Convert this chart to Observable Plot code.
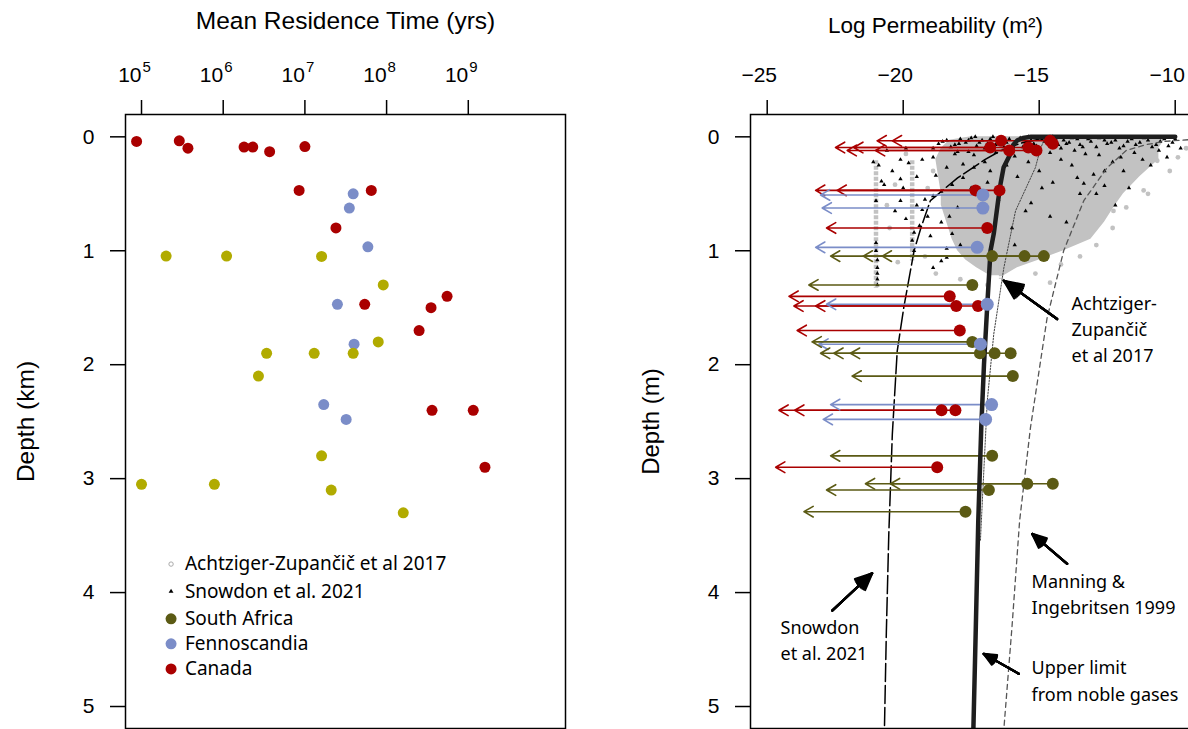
<!DOCTYPE html>
<html><head><meta charset="utf-8">
<script src="https://cdn.jsdelivr.net/npm/d3@7"></script>
<script src="https://cdn.jsdelivr.net/npm/@observablehq/plot@0.6"></script>
<style>
html,body{margin:0;padding:0;background:#fff;}
#wrap{position:relative;width:1188px;height:729px;overflow:hidden;background:#fff;}
#left{position:absolute;left:0;top:0;width:600px;}
#right{position:absolute;left:620px;top:0;width:588px;}
#wrap svg{max-width:none !important;}
</style></head><body>
<div id="wrap"><div id="left"></div><div id="right"></div></div>
<script>
const FONT = "Liberation Sans, Arial, sans-serif";
const FONT2 = "Noto Sans, Open Sans, sans-serif";
const RED = "#AA0000", BLUE = "#7B8DC8", OLIVE = "#5B5A14", YELLOW = "#B1AB00", GRAY = "#c2c2c2";

// ---------- Left panel data: mean residence time (yrs) vs depth (km)
const canadaAge   = [8.7e4, 2.9e5, 3.7e5, 1.8e6, 2.3e6, 3.7e6, 1.0e7, 8.5e6, 6.5e7, 2.4e7, 5.5e8, 5.4e7, 3.5e8, 2.5e8, 3.6e8, 1.15e9, 1.6e9];
const canadaDepth = [0.04, 0.035, 0.10, 0.09, 0.09, 0.13, 0.085, 0.47, 0.47, 0.80, 1.40, 1.47, 1.50, 1.70, 2.40, 2.40, 2.90];
const fennoAge    = [3.9e7, 3.5e7, 5.9e7, 2.5e7, 4.0e7, 1.7e7, 3.2e7];
const fennoDepth  = [0.50, 0.625, 0.965, 1.47, 1.82, 2.35, 2.48];
const safAge      = [2.0e5, 1.1e6, 1.6e7, 9.1e7, 7.9e7, 3.4e6, 1.3e7, 3.9e7, 2.7e6, 1.6e7, 1.0e5, 7.8e5, 2.1e7, 1.6e8];
const safDepth    = [1.047, 1.047, 1.05, 1.30, 1.80, 1.90, 1.90, 1.90, 2.10, 2.80, 3.05, 3.05, 3.10, 3.30];

const ageTicks = [1e5, 1e6, 1e7, 1e8, 1e9];
const ageTickBase = ["10", "10", "10", "10", "10"];
const ageTickExp = ["5", "6", "7", "8", "9"];
const depthTicks = [0, 1, 2, 3, 4, 5];

const legendLabels = ["Achtziger-Zupančič et al 2017", "Snowdon et al. 2021", "South Africa", "Fennoscandia", "Canada"];
const legendDepth  = [3.75, 3.99, 4.23, 4.45, 4.67];
const legendSymbolAge = 2.3e5, legendTextAge = 3.4e5;

// ---------- Right panel data: log permeability (m2) vs depth
const permGroup = ["Canada","Canada","Canada","Canada","Canada","Canada","Canada","Canada","Canada","Canada","Canada","Canada","Canada","Canada","Canada","Canada","Canada",
  "Fennoscandia","Fennoscandia","Fennoscandia","Fennoscandia","Fennoscandia","Fennoscandia","Fennoscandia",
  "South Africa","South Africa","South Africa","South Africa","South Africa","South Africa","South Africa","South Africa","South Africa","South Africa","South Africa","South Africa","South Africa","South Africa"];
const permDepth = [0.035, 0.035, 0.094, 0.094, 0.12, 0.12, 0.06, 0.47, 0.47, 0.80, 1.40, 1.485, 1.485, 1.70, 2.40, 2.40, 2.90,
  0.51, 0.625, 0.97, 1.47, 1.82, 2.35, 2.48,
  1.047, 1.047, 1.047, 1.30, 1.80, 1.90, 1.90, 1.90, 2.10, 2.80, 3.045, 3.045, 3.10, 3.29];
const permEst = [-16.4, -14.6, -16.8, -15.4, -16.1, -15.1, -14.5, -17.34, -16.46, -16.91, -18.29, -18.05, -17.25, -17.92, -18.59, -18.08, -18.75,
  -17.07, -17.07, -17.28, -16.91, -17.16, -16.75, -16.97,
  -16.73, -15.54, -14.83, -17.46, -17.46, -17.18, -16.64, -16.05, -15.97, -16.73, -15.44, -14.50, -16.85, -17.71];
const permLow = [-20.96, -20.40, -22.49, -21.82, -22.06, -21.02, null, -23.22, -22.43, -22.82, -24.2, -24.02, -23.22, -23.9, -24.57, -23.99, -24.69,
  -23.04, -22.98, -23.22, -22.82, -23.10, -22.67, -22.94,
  -22.67, -21.47, -20.77, -23.47, -23.35, -23.04, -22.55, -21.94, -21.88, -22.67, -21.39, -20.47, -22.82, -23.65];

// Achtziger-Zupancic et al 2017 data cloud: dense envelope + columns + scattered points
const azEnvDepth = [0.0, 0.03, 0.1, 0.2, 0.35, 0.5, 0.6, 0.75, 0.9, 1.0, 1.08, 1.15, 1.22];
const azEnvLeft  = [-17.5, -18.3, -18.6, -18.8, -18.7, -18.6, -18.6, -18.4, -18.2, -18.0, -17.7, -17.3, -16.8];
const azEnvRight = [-10.0, -10.4, -10.6, -10.6, -11.3, -11.9, -12.2, -12.6, -13.1, -14.1, -15.0, -15.8, -16.3];
const azColK  = [-21.0, -19.67, -16.4];
const azColD1 = [0.21, 0.21, 1.0];
const azColD2 = [1.33, 1.09, 1.25];
const azDotK = [-9.6, -9.9, -10.2, -11.0, -11.16, -10.66, -12.27, -11.8, -12.3, -12.9, -13.5, -14.2, -19.9, -20.3, -20.5, -19.2, -18.8, -17.9, -16.9, -15.14, -14.6, -20.2, -18.9, -19.1, -20.6];
const azDotD = [0.1, 0.18, 0.3, 0.5, 0.47, 0.21, 0.65, 0.62, 0.8, 0.95, 1.05, 1.12, 0.15, 0.42, 0.8, 1.05, 1.2, 1.25, 1.3, 1.2, 1.28, 1.1, 0.3, 0.45, 0.6];

// Snowdon et al. 2021 points
const snK = [-18.7,-18.4,-18.1,-17.9,-17.7,-17.5,-17.3,-17.1,-16.9,-16.7,-16.5,-16.3,-16.1,-15.9,-15.7,-15.5,-15.3,-15.1,-14.9,-14.7,-14.5,-14.3,-14.1,-13.9,-13.6,-13.4,-13.1,-12.8,-12.5,-12.2,-11.9,-11.6,-11.3,-11.0,-10.7,-10.4,-10.1,-13.3,-12.0,-14.6,-11.2,-10.6,
  -21.1,-20.9,-20.8,-20.7,-21.0,-20.1,-19.8,-20.1,-20.0,-20.1,-19.5,-19.3,-19.1,-19.4,-19.6,-19.0,-19.67,-19.6,-18.6,-18.9,-18.4,-19.3,-18.9,-18.4,-17.8,-17.4,-17.0,-16.8,-17.8,-18.2,-18.6,-18.9,-19.2,-17.5,-17.2,-16.9,-18.0,-18.3,-18.6,-18.2,-17.9,-18.4,-21.0,-21.0,-20.95,-20.95,-20.95,-20.95,-20.95,-16.2,-15.8,-15.4,-15.0,-14.5,-13.8,-12.6,-12.9,-11.7,-14.0,-16.5,-16.0,-15.5,-18.8,-19.5,-20.4,-20.3,-19.9,
  -18.9,-18.55,-18.25,-17.95,-17.6,-17.35,-17.2,-17.0,-16.8,-16.6,-16.4,-16.2,-16.0,-15.8,-15.6,-15.4,-15.2,-15.0,-14.8,-14.6,-14.4,-14.2,-14.0,-13.8,-13.5,-13.2,-12.9,-12.6,-12.35,-12.05,-11.75,-11.45,-11.15,-10.85,-10.55,-10.25,-10.0,
  -18.0,-17.4,-16.6,-15.9,-15.2,-14.2,-13.7,-12.8,-12.3,-11.5,-10.9,-10.3,-9.8,-13.0,-11.9,-14.9,-13.5,-12.2,-15.3,-14.6,-15.9,-13.6,-13.36,-12.6,-19.9,-20.6,-17.6,-18.1];
const snD = [0.06,0.03,0.07,0.02,0.05,0.01,0.08,0.03,0.06,0.0,0.04,0.09,0.02,0.06,0.01,0.05,0.03,0.08,0.02,0.05,0.0,0.07,0.03,0.05,0.02,0.09,0.04,0.01,0.06,0.03,0.08,0.02,0.05,0.03,0.07,0.02,0.05,0.15,0.18,0.14,0.2,0.12,
  0.22,0.25,0.39,0.42,0.56,0.2,0.23,0.37,0.45,0.56,0.6,0.64,0.7,0.78,0.84,0.87,0.91,1.0,1.09,1.15,1.06,0.2,0.18,0.27,0.24,0.27,0.22,0.3,0.36,0.42,0.48,0.52,0.55,0.45,0.6,0.4,0.62,0.7,0.75,0.85,0.95,0.98,0.93,1.0,1.08,1.15,1.2,1.25,1.3,0.25,0.35,0.22,0.3,0.4,0.25,0.3,0.5,0.45,0.75,0.55,0.8,0.65,0.34,0.35,0.3,0.65,0.72,
  0.1,0.04,0.09,0.06,0.03,0.0,0.05,0.1,0.02,0.07,0.01,0.05,0.08,0.03,0.09,0.0,0.06,0.1,0.04,0.08,0.02,0.1,0.06,0.01,0.07,0.02,0.09,0.03,0.05,0.1,0.04,0.07,0.01,0.09,0.04,0.08,0.02,
  0.13,0.16,0.14,0.17,0.13,0.2,0.12,0.16,0.22,0.14,0.25,0.18,0.1,0.33,0.3,0.45,0.5,0.6,0.58,0.7,0.95,0.36,0.41,0.43,0.1,0.12,0.13,0.15];

// curves
const upperD = [0, 0, 0.01, 0.03, 0.07, 0.15, 0.27, 0.41, 0.56, 0.85, 1.0, 1.44, 2.0, 2.55, 3.37, 4.3, 5.2];
const upperK = [-10, -15.3, -15.6, -15.8, -15.95, -16.06, -16.31, -16.42, -16.51, -16.67, -16.79, -16.9, -17.03, -17.13, -17.24, -17.33, -17.42];
const snowLineD = [0.02, 0.05, 0.12, 0.2, 0.36, 0.56, 0.8, 1.0, 1.5, 1.88, 2.61, 3.49, 4.35, 5.2];
const snowLineK = [-15.0, -15.6, -16.4, -17.0, -18.0, -19.0, -19.35, -19.6, -19.98, -20.22, -20.4, -20.53, -20.62, -20.69];
const manD = [0.02, 0.04, 0.07, 0.12, 0.27, 0.56, 1.0, 1.59, 2.55, 3.37, 4.3, 5.2];
const manK = [-9.2, -10.4, -11.1, -11.8, -12.5, -13.36, -14.1, -14.71, -15.32, -15.72, -16.0, -16.3];
const azFitD = [0.02, 0.1, 0.27, 0.65, 1.15, 1.73, 2.32, 3.0, 3.54];
const azFitK = [-14.8, -14.95, -15.14, -15.87, -16.3, -16.67, -16.91, -17.05, -17.16];

const permTicks = [-25, -20, -15, -10];
const permTickLabels = ["−25", "−20", "−15", "−10"];

// annotations
const annoText = ["Achtziger-\nZupančič\net al 2017", "Manning &\nIngebritsen 1999", "Upper limit\nfrom noble gases", "Snowdon\net al. 2021"];
const annoK = [-13.81, -15.28, -15.28, -24.51];
const annoD = [1.673, 3.997, 4.76, 4.406];
const arrK1 = [-14.34, -13.97, -15.75, -22.61];
const arrD1 = [1.599, 3.748, 4.713, 4.158];
const arrK2 = [-16.30, -15.26, -17.04, -21.14];
const arrD2 = [1.263, 3.485, 4.538, 3.83];

// ---------- build tables
const mk = (xs, ys) => xs.map((x, i) => ({x, y: ys[i]}));
const canada = mk(canadaAge, canadaDepth), fenno = mk(fennoAge, fennoDepth), saf = mk(safAge, safDepth);
const legend = legendLabels.map((label, i) => ({label, y: legendDepth[i]}));
const colorOf = {"Canada": RED, "Fennoscandia": BLUE, "South Africa": OLIVE};
const perm = permDepth.map((d, i) => ({d, est: permEst[i], low: permLow[i], g: permGroup[i]}));
const env = azEnvDepth.map((d, i) => ({d, l: azEnvLeft[i], r: azEnvRight[i]}));
const cols = azColK.map((k, i) => ({k, d1: azColD1[i], d2: azColD2[i]}));
const azDots = azDotK.map((k, i) => ({k, d: azDotD[i]}));
const sn = snK.map((k, i) => ({k, d: snD[i]}));
const line = (ks, ds) => ks.map((k, i) => ({k, d: ds[i]}));
const anno = annoText.map((t, i) => ({t, k: annoK[i], d: annoD[i]}));
const arrs = arrK1.map((k, i) => ({k1: k, d1: arrD1[i], k2: arrK2[i], d2: arrD2[i]}));
const ageT = ageTicks.map((v, i) => ({v, base: ageTickBase[i], exp: ageTickExp[i]}));
const permT = permTicks.map((v, i) => ({v, label: permTickLabels[i]}));
const noLabel = () => "";

const left = Plot.plot({
  width: 600, height: 729,
  marginLeft: 125, marginRight: 35, marginTop: 114, marginBottom: 1,
  style: {fontFamily: FONT, fontSize: "20px", color: "black", background: "white", overflow: "visible"},
  x: {type: "log", domain: [10 ** 4.804, 10 ** 10.19]},
  y: {domain: [-0.196, 5.193], reverse: true},
  marks: [
    Plot.frame({stroke: "black", strokeWidth: 1.5}),
    Plot.axisX({anchor: "top", ticks: ageTicks, tickFormat: noLabel, tickSize: 15, strokeWidth: 1.5, label: null}),
    Plot.text(ageT, {x: "v", text: "base", frameAnchor: "top", lineAnchor: "middle", textAnchor: "end", dx: 0, dy: -39, fontSize: 21}),
    Plot.text(ageT, {x: "v", text: "exp", frameAnchor: "top", lineAnchor: "middle", textAnchor: "start", dx: 1, dy: -47, fontSize: 15}),
    Plot.axisY({anchor: "left", ticks: depthTicks, tickFormat: d => String(d), tickSize: 15, tickPadding: 16, strokeWidth: 1.5, label: null, fontSize: 21}),
    Plot.text(["Mean Residence Time (yrs)"], {text: d => d, frameAnchor: "top", lineAnchor: "middle", dy: -93, fontSize: 24.5}),
    Plot.text(["Depth (km)"], {text: d => d, frameAnchor: "left", textAnchor: "middle", lineAnchor: "middle", dx: -99, rotate: -90, fontSize: 24.5}),
    Plot.dot(canada, {x: "x", y: "y", r: 5.5, fill: RED}),
    Plot.dot(fenno, {x: "x", y: "y", r: 5.5, fill: BLUE}),
    Plot.dot(saf, {x: "x", y: "y", r: 5.5, fill: YELLOW}),
    Plot.dot([legend[0]], {x: () => legendSymbolAge, y: "y", r: 2.2, stroke: "#aaa", strokeWidth: 1, fill: "none"}),
    Plot.dot([legend[1]], {x: () => legendSymbolAge, y: "y", r: 1.8, symbol: "triangle", fill: "black"}),
    Plot.dot([legend[2]], {x: () => legendSymbolAge, y: "y", r: 5.5, fill: OLIVE}),
    Plot.dot([legend[3]], {x: () => legendSymbolAge, y: "y", r: 5.5, fill: BLUE}),
    Plot.dot([legend[4]], {x: () => legendSymbolAge, y: "y", r: 5.5, fill: RED}),
    Plot.text(legend, {x: () => legendTextAge, y: "y", text: "label", textAnchor: "start", fontFamily: FONT2, fontSize: 19})
  ]
});
document.getElementById("left").appendChild(left);

const byGroup = g => perm.filter(d => d.g === g);
const headAngles = [48, 38, 28, 18, 8];
const right = Plot.plot({
  width: 588, height: 729,
  marginLeft: 130, marginRight: 8, marginTop: 114, marginBottom: 1,
  style: {fontFamily: FONT, fontSize: "20px", color: "black", background: "white"},
  x: {domain: [-25.614, -9.07]},
  y: {domain: [-0.196, 5.193], reverse: true},
  marks: [
    Plot.areaX(env, {y: "d", x1: "l", x2: "r", fill: GRAY, curve: "linear"}),
    Plot.ruleX(cols, {x: "k", y1: "d1", y2: "d2", stroke: GRAY, strokeWidth: 4.5, strokeDasharray: "4,1.5"}),
    Plot.dot(azDots, {x: "k", y: "d", r: 2.4, fill: GRAY, clip: true}),
    Plot.dot(sn, {x: "k", y: "d", r: 1.6, symbol: "triangle", fill: "black", clip: true}),
    Plot.line(line(manK, manD), {x: "k", y: "d", stroke: "#555", strokeWidth: 1.3, strokeDasharray: "5,4", clip: true}),
    Plot.line(line(azFitK, azFitD), {x: "k", y: "d", stroke: "#444", strokeWidth: 1, strokeDasharray: "1.5,1.5", clip: true}),
    Plot.line(line(snowLineK, snowLineD), {x: "k", y: "d", stroke: "black", strokeWidth: 1.5, strokeDasharray: "18,4", clip: true}),
    Plot.arrow(perm.filter(d => d.low != null), {x1: "est", x2: "low", y1: "d", y2: "d", stroke: d => colorOf[d.g], strokeWidth: 1.6, headLength: 10, headAngle: 60}),
    Plot.line(line(upperK, upperD), {x: "k", y: "d", stroke: "#1e1e1e", strokeWidth: 4.5, strokeLinecap: "round", clip: true}),
    Plot.dot(byGroup("South Africa"), {x: "est", y: "d", r: 6, fill: OLIVE}),
    Plot.dot(byGroup("Canada"), {x: "est", y: "d", r: 6, fill: RED}),
    Plot.dot(byGroup("Fennoscandia"), {x: "est", y: "d", r: 6.5, fill: BLUE}),
    Plot.frame({stroke: "black", strokeWidth: 1.5}),
    Plot.axisX({anchor: "top", ticks: permTicks, tickFormat: noLabel, tickSize: 15, strokeWidth: 1.5, label: null}),
    Plot.text(permT, {x: "v", text: "label", frameAnchor: "top", lineAnchor: "middle", dx: -8, dy: -39, fontSize: 21}),
    Plot.axisY({anchor: "left", ticks: depthTicks, tickFormat: d => String(d), tickSize: 15, tickPadding: 16, strokeWidth: 1.5, label: null, fontSize: 21}),
    Plot.text(["Log Permeability (m²)"], {text: d => d, frameAnchor: "top", lineAnchor: "middle", dy: -89, dx: -40, fontSize: 22.5}),
    Plot.text(["Depth (m)"], {text: d => d, frameAnchor: "left", textAnchor: "middle", lineAnchor: "middle", dx: -99, rotate: -90, fontSize: 24}),
    Plot.text(anno, {x: "k", y: "d", text: "t", textAnchor: "start", lineAnchor: "middle", lineHeight: 1.45, fontFamily: FONT2, fontSize: 18}),
    ...headAngles.map(a => Plot.arrow(arrs, {x1: "k1", y1: "d1", x2: "k2", y2: "d2", stroke: "black", strokeWidth: 2.2, headLength: 14, headAngle: a}))
  ]
});
document.getElementById("right").appendChild(right);
</script></body></html>
